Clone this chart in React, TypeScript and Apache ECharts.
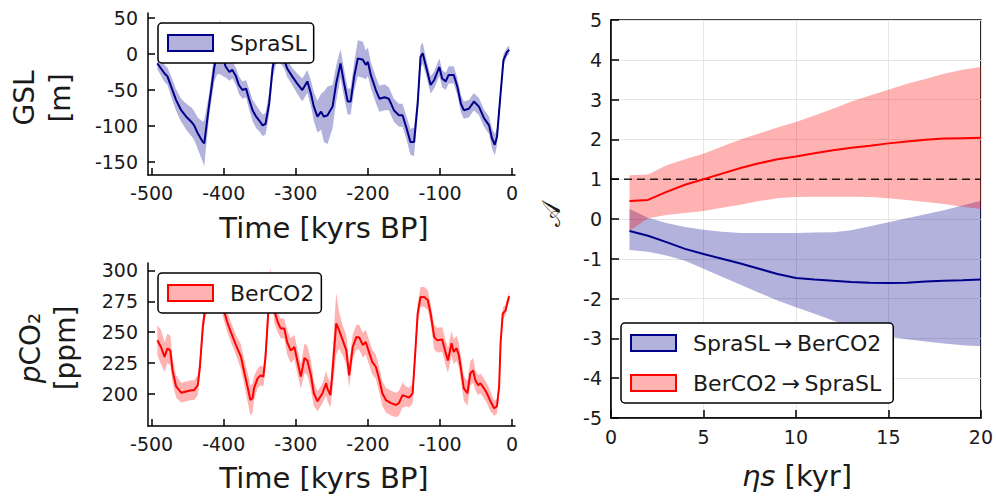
import React, { useEffect, useRef } from 'react';
import * as echarts from 'echarts';

// ---------- Data ----------
const gslTime = [-492, -482, -478, -473, -466, -459, -452, -445, -441, -436, -429, -427, -420, -413, -409, -405, -402, -397, -392, -388, -383, -379, -374, -369, -365, -360, -355, -351, -346, -342, -337, -332, -327, -322, -316, -312, -305, -298, -291, -284, -279, -275, -270, -265, -261, -256, -249, -244, -238, -233, -228, -224, -219, -214, -207, -203, -200, -196, -189, -184, -177, -171, -164, -157, -152, -147, -141, -136, -131, -127, -124, -120, -113, -108, -101, -97, -92, -88, -81, -76, -71, -67, -60, -53, -46, -39, -32, -28, -24, -21, -16, -12, -7, -4];
const gslMean = [-13, -27, -31, -45, -64, -78, -87, -94, -99, -110, -122, -124, -69, -18, 2, 10, -5, -18, -25, -22, -31, -43, -50, -48, -62, -78, -87, -92, -99, -97, -69, -18, 3, 3, -8, -20, -31, -41, -50, -38, -55, -73, -87, -80, -87, -85, -73, -41, -13, -41, -66, -66, -31, -6, -8, -15, -11, -29, -50, -62, -60, -62, -78, -85, -85, -101, -122, -122, -69, -4, 1, -15, -43, -36, -18, -34, -38, -29, -29, -45, -69, -78, -76, -66, -73, -89, -99, -117, -126, -115, -55, -8, 3, 6];
const gslErr = [8, 12, 12, 14, 15, 16, 18, 20, 20, 22, 28, 32, 15, 20, 30, 38, 25, 15, 12, 12, 12, 12, 12, 12, 14, 15, 16, 15, 15, 15, 15, 15, 15, 15, 12, 12, 12, 14, 16, 16, 18, 20, 22, 25, 35, 40, 30, 25, 20, 20, 18, 18, 20, 25, 25, 20, 20, 18, 18, 18, 18, 16, 16, 16, 16, 16, 18, 20, 15, 15, 15, 12, 12, 12, 12, 12, 12, 12, 12, 12, 12, 12, 12, 12, 12, 12, 12, 14, 15, 12, 10, 8, 6, 6];

const co2Time = [-492, -487, -482, -478, -474, -471, -466, -459, -452, -445, -441, -436, -433, -429, -426, -420, -410, -405, -400, -395, -390, -383, -376, -372, -367, -363, -360, -358, -353, -349, -345, -342, -338, -335, -332, -330, -325, -321, -316, -312, -307, -302, -298, -293, -288, -284, -279, -275, -270, -263, -258, -256, -252, -249, -244, -240, -235, -230, -226, -221, -216, -212, -207, -203, -198, -194, -189, -184, -180, -175, -168, -161, -157, -152, -147, -143, -138, -135, -131, -127, -122, -117, -113, -108, -104, -97, -92, -89, -84, -81, -77, -74, -71, -67, -62, -58, -54, -51, -47, -44, -39, -35, -30, -25, -21, -18, -16, -13, -9, -7, -4];
const co2Mean = [243.5, 238, 230, 237, 235, 219, 206, 201, 202, 203, 203, 207, 222, 254, 268, 282, 285, 280, 268, 258, 250, 239.5, 230, 219, 206, 195, 196.5, 204.5, 212.6, 215, 214, 230, 268, 290, 280, 268, 258, 253, 253, 242, 235, 238, 227, 214, 229, 227, 215, 200.5, 194, 200.5, 208.6, 204, 199, 219, 257, 251.6, 243.5, 235.5, 215, 238, 246, 245.7, 239.5, 242, 233, 226, 222, 211, 200.5, 195, 192.5, 191, 192.5, 199, 198, 197, 200.5, 227, 265, 278.5, 278.5, 276, 265, 246, 243.5, 244, 233, 227, 241, 234, 237, 231.5, 220.7, 204.5, 200.5, 216.7, 219, 211, 207, 208.6, 204.5, 200.5, 194, 188.4, 190, 206, 241, 265, 267.7, 273, 279];
const co2Err = [12, 14, 12, 12, 12, 10, 9, 8, 8, 8, 8, 8, 8, 8, 8, 8, 8, 8, 8, 8, 8, 8, 10, 10, 12, 12, 12, 10, 8, 8, 8, 10, 12, 12, 10, 10, 8, 8, 8, 10, 10, 10, 10, 10, 12, 12, 12, 10, 8, 8, 10, 10, 10, 15, 25, 15, 12, 12, 10, 10, 10, 10, 10, 10, 10, 10, 10, 10, 10, 10, 10, 10, 10, 10, 8, 8, 8, 8, 8, 8, 8, 8, 8, 10, 10, 10, 10, 10, 10, 10, 10, 10, 10, 10, 10, 10, 10, 8, 8, 8, 8, 8, 8, 6, 6, 6, 5, 5, 4, 4, 4];

const etaS = [1, 2, 3, 4, 5, 6, 7, 8, 9, 10, 11, 12, 13, 14, 15, 16, 17, 18, 19, 20];
const redMean = [0.45, 0.48, 0.68, 0.86, 1.0, 1.14, 1.28, 1.4, 1.5, 1.57, 1.65, 1.73, 1.79, 1.84, 1.9, 1.95, 1.99, 2.02, 2.03, 2.04];
const redHigh = [1.1, 1.12, 1.35, 1.5, 1.64, 1.82, 2.0, 2.15, 2.3, 2.44, 2.6, 2.77, 2.95, 3.1, 3.25, 3.4, 3.52, 3.65, 3.75, 3.82];
const redLow = [-0.3, 0.02, 0.1, 0.15, 0.2, 0.28, 0.36, 0.45, 0.52, 0.55, 0.56, 0.56, 0.56, 0.55, 0.52, 0.48, 0.43, 0.38, 0.31, 0.25];
const blueMean = [-0.3, -0.42, -0.58, -0.75, -0.88, -1.0, -1.12, -1.25, -1.38, -1.48, -1.52, -1.55, -1.58, -1.6, -1.61, -1.6, -1.57, -1.55, -1.54, -1.52];
const blueHigh = [0.25, 0.03, -0.1, -0.2, -0.27, -0.32, -0.35, -0.35, -0.35, -0.35, -0.34, -0.33, -0.28, -0.18, -0.08, 0.02, 0.12, 0.22, 0.34, 0.46];
const blueLow = [-0.78, -0.82, -0.92, -1.05, -1.25, -1.45, -1.65, -1.85, -2.05, -2.22, -2.38, -2.55, -2.72, -2.87, -2.95, -3.02, -3.08, -3.13, -3.17, -3.2];
const refLevel = 1;

const timeTicks = [-500, -400, -300, -200, -100, 0];
const gslTicks = [-150, -100, -50, 0, 50];
const co2Ticks = [200, 225, 250, 275, 300];

const nameGSL = 'SpraSL';
const nameCO2 = 'BerCO2';
const nameS2B = 'SpraSL\u2009\u2192\u2009BerCO2';
const nameB2S = 'BerCO2\u2009\u2192\u2009SpraSL';

// ---------- Styles ----------
const FONT = 'DejaVu Sans';
const BLUE = '#00008b';
const BLUE_FILL = 'rgba(0,0,139,0.3)';
const RED = '#ff0000';
const RED_FILL = 'rgba(255,0,0,0.3)';
const TXT = '#1a1a1a';

function bandSeries(xs: number[], lo: number[], hi: number[], fill: string, axisIdx: number) {
  return {
    type: 'custom',
    xAxisIndex: axisIdx,
    yAxisIndex: axisIdx,
    silent: true,
    z: 1,
    data: [[xs[0], lo[0]]],
    renderItem: (_params: any, api: any) => {
      const pts: number[][] = [];
      for (let i = 0; i < xs.length; i++) pts.push(api.coord([xs[i], hi[i]]));
      for (let i = xs.length - 1; i >= 0; i--) pts.push(api.coord([xs[i], lo[i]]));
      return { type: 'polygon', shape: { points: pts }, style: { fill, stroke: 'none' } };
    },
  };
}

function lineSeries(name: string, xs: number[], ys: number[], color: string, axisIdx: number) {
  return {
    name,
    type: 'line',
    xAxisIndex: axisIdx,
    yAxisIndex: axisIdx,
    data: xs.map((x, i) => [x, ys[i]]),
    showSymbol: false,
    symbol: 'none',
    z: 3,
    color,
    lineStyle: { color, width: 2 },
    silent: true,
  };
}

const axisLineStyle = { show: true, onZero: false, lineStyle: { color: '#000', width: 1.5 } };

function leftX(gi: number) {
  return {
    type: 'value', gridIndex: gi, min: -505, max: 4,
    axisLine: axisLineStyle,
    axisTick: { show: true, inside: true, length: 7, customValues: timeTicks, lineStyle: { color: '#000', width: 1.5 } },
    axisLabel: { customValues: timeTicks, fontSize: 19, fontFamily: FONT, color: TXT, margin: 8 },
    splitLine: { show: false },
  };
}
function leftY(gi: number, min: number, max: number, ticks: number[]) {
  return {
    type: 'value', gridIndex: gi, min, max,
    axisLine: axisLineStyle,
    axisTick: { show: true, inside: true, length: 7, customValues: ticks, lineStyle: { color: '#000', width: 1.5 } },
    axisLabel: { customValues: ticks, fontSize: 19, fontFamily: FONT, color: TXT, margin: 10 },
    splitLine: { show: false },
  };
}

function legendBox(left: number, top: number, items: { name: string; fill: string; stroke: string }[], orient: string, padRight: number) {
  return {
    left, top, orient,
    selectedMode: false,
    data: items.map((it) => ({ name: it.name, icon: 'rect', itemStyle: { color: it.fill, borderColor: it.stroke, borderWidth: 2 } })),
    itemWidth: 45, itemHeight: 16, itemGap: 18,
    padding: [9, padRight, 9, 9],
    backgroundColor: '#fff',
    borderColor: '#000', borderWidth: 1.5, borderRadius: 4,
    textStyle: { fontSize: 22, fontFamily: FONT, color: TXT, padding: [0, 0, 0, 12], lineHeight: 22 },
  };
}

export default function App() {
  const ref = useRef<HTMLDivElement>(null);
  useEffect(() => {
    if (!ref.current) return;
    const chart = echarts.init(ref.current, undefined, { renderer: 'svg' });
    const gslLo = gslMean.map((v, i) => v - gslErr[i]);
    const gslHi = gslMean.map((v, i) => v + gslErr[i]);
    const co2Lo = co2Mean.map((v, i) => v - co2Err[i]);
    const co2Hi = co2Mean.map((v, i) => v + co2Err[i]);
    const option: any = {
      animation: false,
      backgroundColor: '#fff',
      textStyle: { fontFamily: FONT },
      grid: [
        { left: 148, top: 13, width: 367, height: 162 },
        { left: 148, top: 263, width: 367, height: 163 },
        { left: 611, top: 20, width: 373, height: 398, show: true, borderColor: '#000', borderWidth: 1.5, backgroundColor: 'transparent' },
      ],
      xAxis: [
        leftX(0),
        leftX(1),
        {
          type: 'value', gridIndex: 2, min: 0, max: 20, interval: 5,
          axisLine: axisLineStyle,
          axisTick: { show: true, inside: true, length: 8, lineStyle: { color: '#000', width: 1.5 } },
          axisLabel: { fontSize: 19, fontFamily: FONT, color: TXT, margin: 9 },
          splitLine: { show: true, lineStyle: { color: '#e6e6e6', width: 1 } },
        },
      ],
      yAxis: [
        leftY(0, -168, 57, gslTicks),
        leftY(1, 174, 306, co2Ticks),
        {
          type: 'value', gridIndex: 2, min: -5, max: 5, interval: 1,
          axisLine: axisLineStyle,
          axisTick: { show: true, inside: true, length: 8, lineStyle: { color: '#000', width: 1.5 } },
          axisLabel: { fontSize: 19, fontFamily: FONT, color: TXT, margin: 9 },
          splitLine: { show: true, lineStyle: { color: '#e6e6e6', width: 1 } },
        },
      ],
      legend: [
        legendBox(158, 23, [{ name: nameGSL, fill: BLUE_FILL, stroke: BLUE }], 'horizontal', 7),
        legendBox(158, 273, [{ name: nameCO2, fill: RED_FILL, stroke: RED }], 'horizontal', 7),
        legendBox(621, 323, [
          { name: nameS2B, fill: BLUE_FILL, stroke: BLUE },
          { name: nameB2S, fill: RED_FILL, stroke: RED },
        ], 'vertical', 12),
      ],
      series: [
        bandSeries(gslTime, gslLo, gslHi, BLUE_FILL, 0),
        lineSeries(nameGSL, gslTime, gslMean, BLUE, 0),
        bandSeries(co2Time, co2Lo, co2Hi, RED_FILL, 1),
        lineSeries(nameCO2, co2Time, co2Mean, RED, 1),
        bandSeries(etaS, blueLow, blueHigh, BLUE_FILL, 2),
        bandSeries(etaS, redLow, redHigh, RED_FILL, 2),
        lineSeries(nameS2B, etaS, blueMean, BLUE, 2),
        lineSeries(nameB2S, etaS, redMean, RED, 2),
        {
          type: 'line', xAxisIndex: 2, yAxisIndex: 2, silent: true, symbol: 'none', z: 2,
          data: [[0, refLevel], [20, refLevel]],
          lineStyle: { color: 'rgba(0,0,0,0.85)', width: 1.5, type: [8, 5] },
        },
      ],
      graphic: [
        {
          type: 'text', x: 42, y: 98, rotation: Math.PI / 2,
          style: { text: 'GSL\n[m]', fontSize: 28, fontFamily: FONT, fill: TXT, align: 'center', verticalAlign: 'middle', lineHeight: 36 },
        },
        {
          type: 'text', x: 48, y: 348, rotation: Math.PI / 2,
          style: {
            text: '{it|p}CO\u2082\n[ppm]', fontSize: 28, fontFamily: FONT, fill: TXT, align: 'center', verticalAlign: 'middle', lineHeight: 35,
            rich: { it: { fontStyle: 'italic', fontSize: 28, fontFamily: FONT, fill: TXT, lineHeight: 35 } },
          },
        },
        {
          type: 'text', x: 324, y: 228,
          style: { text: 'Time [kyrs BP]', fontSize: 29, fontFamily: FONT, fill: TXT, align: 'center', verticalAlign: 'middle' },
        },
        {
          type: 'text', x: 324, y: 478,
          style: { text: 'Time [kyrs BP]', fontSize: 29, fontFamily: FONT, fill: TXT, align: 'center', verticalAlign: 'middle' },
        },
        {
          type: 'text', x: 797, y: 476,
          style: {
            text: '{it|\u03b7s} [kyr]', fontSize: 29, fontFamily: FONT, fill: TXT, align: 'center', verticalAlign: 'middle',
            rich: { it: { fontStyle: 'italic', fontSize: 29, fontFamily: FONT, fill: TXT } },
          },
        },
        {
          type: 'text', x: 551, y: 214, rotation: Math.PI / 2,
          style: { text: '\ud835\udc9c', fontSize: 26, fontFamily: FONT, fill: TXT, align: 'center', verticalAlign: 'middle' },
        },
      ],
    };
    chart.setOption(option);
    return () => chart.dispose();
  }, []);
  return <div ref={ref} style={{ width: 996, height: 497, position: 'absolute', left: 0, top: 0 }} />;
}
